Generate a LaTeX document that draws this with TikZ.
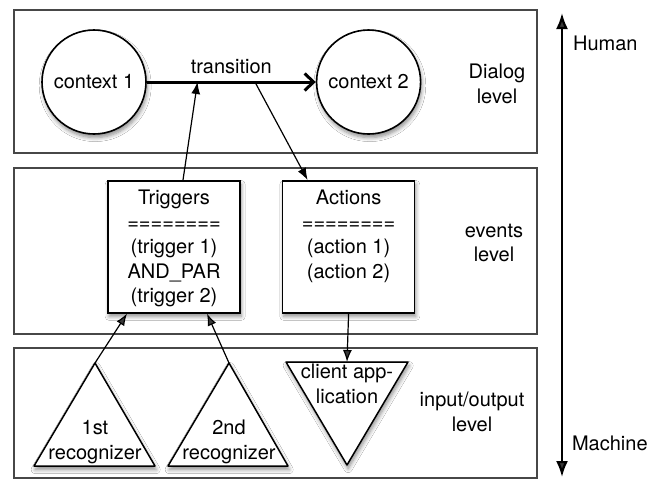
\documentclass[tikz,border=0pt]{standalone}
\usepackage{fontspec}
\setmainfont{TeX Gyre Heros}
\usetikzlibrary{arrows.meta, positioning, calc, shadows.blur}
\newcommand{\blocktext}[1]{\parbox[c][56.6pt][t]{66pt}{\centering #1}}

\begin{document}
\begin{tikzpicture}[x=0.5pt, y=-0.5pt, >={Latex[length=6pt, width=4.5pt]}, font=\fontsize{10pt}{12.25pt}\selectfont,
    panel/.style={draw=black!72, line width=0.8pt, fill=white},
    softshadow/.style={blur shadow={shadow xshift=0.6pt, shadow yshift=-1.8pt, shadow blur radius=2pt, shadow blur steps=6, shadow opacity=45}},
    link/.style={->, line width=0.6pt}]
    % Define styles for contexts, blocks, triangles and level names
    \tikzstyle{context} = [draw, fill=white, circle, minimum size=52pt, inner sep=0pt, line width=0.8pt, softshadow]
    \tikzstyle{block} = [draw, fill=white, rectangle, minimum width=66pt, minimum height=66pt, inner xsep=0pt, inner ysep=4.7pt, line width=0.8pt, anchor=north, softshadow]
    \tikzstyle{tri} = [draw, fill=white, line width=0.75pt, line join=round, softshadow]
    \tikzstyle{levelname} = [align=center]

    \useasboundingbox (0,0) rectangle (659,478);

    % Level panels
    \draw[panel] (14,10) rectangle (537,153);
    \draw[panel] (14,168) rectangle (537,334);
    \draw[panel] (14,348) rectangle (537,478);

    % Dialog level
    \node[context] (ctx1) at (94,82) {context 1};
    \node[context, right=84.5pt of ctx1] (ctx2) {context 2};
    \draw[->, line width=1.5pt, >={Straight Barb[length=4.5pt, width=8.5pt]}] (ctx1) -- node[above] (trans) {transition} coordinate[pos=0.3] (tin) coordinate[pos=0.64] (tout) (ctx2);

    % Events level
    \node[block] (triggers) at (174,180) {\blocktext{Triggers\\========\\(trigger 1)\\AND\_PAR\\(trigger 2)}};
    \node[block, right=20.5pt of triggers] (actions) {\blocktext{Actions\\========\\(action 1)\\(action 2)}};

    \draw[link] ($(triggers.north)+(9,0)$) -- (tin);
    \draw[link] (tout) -- ($(actions.north)+(-41,0)$);

    % Input/output level
    \coordinate (rec1top) at (95,363);
    \coordinate (rec2top) at (229,363);
    \coordinate (clienttop) at (347,362);
    \draw[tri] (rec1top) -- (155,466) -- (34,466) -- cycle;
    \draw[tri] (rec2top) -- (288,466) -- (168,466) -- cycle;
    \draw[tri] (286,362) -- (408,362) -- (347,465) -- cycle;
    \node[levelname] (rec1) at (95,442) {1st\\recognizer};
    \node[levelname] (rec2) at (229,442) {2nd\\recognizer};
    \node[levelname] (client) at (347,384) {client app-\\lication};

    \draw[link] (actions.south) -- (clienttop);
    \draw[link] (rec1top) -- ($(triggers.south)+(-47,0)$);
    \draw[link] (rec2top) -- ($(triggers.south)+(33,0)$);

    % Level names
    \node[levelname] (dialog) at (497,84) {Dialog\\level};
    \node[levelname] (events) at (494,243) {events\\level};
    \node[levelname] (io) at (472,412) {input/output\\level};

    % Human / machine axis
    \coordinate (human) at (562,13);
    \coordinate (machine) at (562,477);
    \draw[<->, line width=1.1pt, >={Latex[length=8pt, width=6pt]}] (machine) -- (human);
    \node[right] (humanlbl) at (566,43) {Human};
    \node[right] (machinelbl) at (565,443) {Machine};
\end{tikzpicture}
\end{document}
